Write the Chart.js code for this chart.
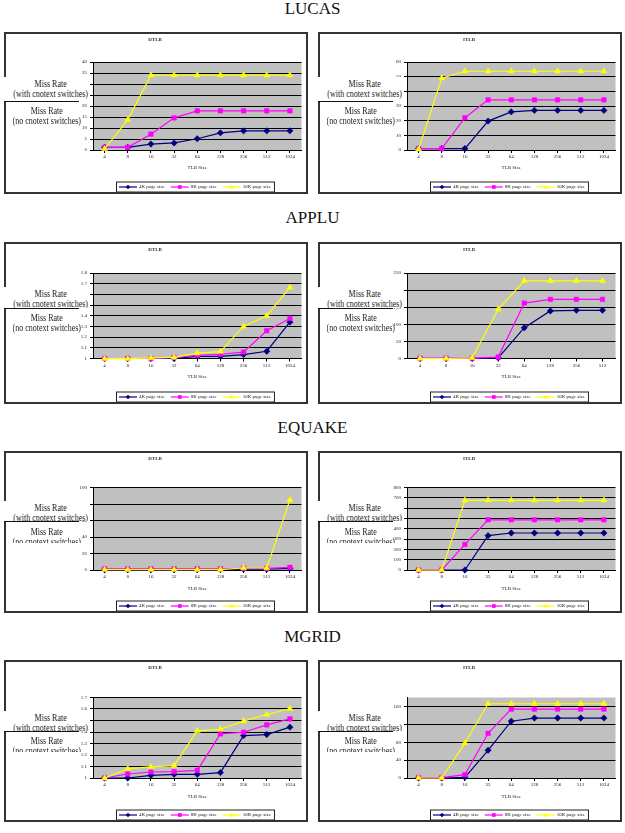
<!DOCTYPE html>
<html>
<head>
<meta charset="utf-8">
<script src="https://cdn.jsdelivr.net/npm/chart.js@4.4.0/dist/chart.umd.min.js"></script>
<style>
  body { margin: 0; width: 625px; height: 833px; background: #fff; position: relative; overflow: hidden; font-family: "Liberation Serif", "Times New Roman", "DejaVu Serif", serif; }
  .section { position: absolute; left: 0; width: 625px; text-align: center; font-size: 17px; line-height: 18px; color: #111; }
  .box { position: absolute; border: 2px solid #333; background: #fff; }
  .box canvas { display: block; }
  .mr { position: absolute; width: 86px; text-align: center; font-size: 10px; line-height: 10px; color: #222; overflow: hidden; white-space: nowrap; }
  .mr span { display: inline-block; transform: scaleX(0.8); transform-origin: center top; }
  .mr.upper { background: #fff; }
  .mrline { position: absolute; width: 75px; height: 0; border-top: 1.5px solid #111; }
</style>
</head>
<body>
<script>
// categories
const tlbSizes = ['4', '8', '16', '32', '64', '128', '256', '512', '1024'];
const tlbSizesApplu = ['4', '8', '16', '32', '64', '128', '256', '512'];
const seriesNames = ['4K page size', '8K page size', '16K page size'];

// LUCAS
const lucasDtlb4k = [1.2, 1.2, 2.7, 3.2, 5.1, 7.8, 8.7, 8.7, 8.7];
const lucasDtlb8k = [1.2, 1.2, 7.2, 14.6, 17.8, 17.8, 17.8, 17.8, 17.8];
const lucasDtlb16k = [0.5, 13.7, 34, 34, 34, 34, 34, 34, 34];
const lucasItlb4k = [1, 1, 1, 19.7, 26, 27, 27, 27, 27];
const lucasItlb8k = [1, 1, 22, 34.2, 34.2, 34.2, 34.2, 34.2, 34.2];
const lucasItlb16k = [0.5, 49, 53.7, 53.7, 53.7, 53.7, 53.7, 53.7, 53.7];

// APPLU
const appluDtlb4k = [1, 1, 1, 1, 1.02, 1.02, 1.037, 1.068, 1.34];
const appluDtlb8k = [1, 1, 1, 1.01, 1.03, 1.04, 1.06, 1.26, 1.375];
const appluDtlb16k = [0.998, 0.998, 1.005, 1.01, 1.05, 1.065, 1.3, 1.4, 1.665];
const appluItlb4k = [0, 0, 0, 2, 90, 139, 141, 141];
const appluItlb8k = [1, 1, 1, 4, 162, 173, 173, 173];
const appluItlb16k = [0, 0, 2, 144, 227, 227, 227, 227];

// EQUAKE
const equakeDtlb4k = [0.3, 0.3, 0.3, 0.3, 0.4, 0.5, 1, 1, 2];
const equakeDtlb8k = [1.5, 1.5, 1.5, 1.5, 1.5, 1.5, 2, 2, 3.2];
const equakeDtlb16k = [0.4, 0.4, 0.4, 0.4, 0.4, 0.4, 2.4, 2.4, 85];
const equakeItlb4k = [0, 0, 0, 333, 359, 359, 359, 359, 359];
const equakeItlb8k = [0, 0, 248, 487, 487, 487, 487, 487, 487];
const equakeItlb16k = [0, 0, 676, 676, 676, 676, 676, 676, 676];

// MGRID
const mgridDtlb4k = [1, 1, 1.023, 1.032, 1.032, 1.047, 1.369, 1.378, 1.442];
const mgridDtlb8k = [1, 1.035, 1.052, 1.055, 1.067, 1.384, 1.398, 1.462, 1.514];
const mgridDtlb16k = [0.998, 1.081, 1.096, 1.108, 1.41, 1.424, 1.494, 1.552, 1.602];
const mgridItlb4k = [0, 0, 1.5, 62, 127, 134, 134, 134, 134];
const mgridItlb8k = [1, 1, 7.6, 100, 154, 154, 154, 154, 154];
const mgridItlb16k = [0, 0, 78, 166, 166, 166, 166, 166, 166];

// y axis: min, max, step
const lucasDtlbTicks = [0, 40, 5];
const lucasItlbTicks = [0, 60, 10];
const appluDtlbTicks = [1, 1.8, 0.1];
const appluItlbTicks = [0, 250, 50];
const equakeDtlbTicks = [0, 100, 10];
const equakeItlbTicks = [0, 800, 100];
const mgridDtlbTicks = [1, 1.7, 0.1];
const mgridItlbTicks = [0, 180, 20];

const colors = ['#000080', '#ff00ff', '#ffff00'];
const markers = ['rectRot', 'rect', 'triangle'];

// page layout, offsets are from the top of each chart box
const rows = [
  { name: 'LUCAS', titleTop: 0, top: 32, plotTop: 30, plotBottom: 118, tlbY: 136, missY: 52, lineY: 69, lowerY: 79, lowerH: 21 },
  { name: 'APPLU', titleTop: 209, top: 242, plotTop: 31, plotBottom: 116.5, tlbY: 135, missY: 52, lineY: 66, lowerY: 76, lowerH: 21 },
  { name: 'EQUAKE', titleTop: 419, top: 451, plotTop: 36.5, plotBottom: 119, tlbY: 138, missY: 57, lineY: 70, lowerY: 81, lowerH: 16 },
  { name: 'MGRID', titleTop: 628, top: 660, plotTop: 37.5, plotBottom: 118, tlbY: 137, missY: 58, lineY: 71, lowerY: 81, lowerH: 16 }
];
const boxLeft = [4, 318];
const boxW = 304, boxH = 162, border = 2;

const charts = [
  { row: 0, side: 0, title: 'DTLB', labels: tlbSizes, series: [lucasDtlb4k, lucasDtlb8k, lucasDtlb16k], y: lucasDtlbTicks },
  { row: 0, side: 1, title: 'ITLB', labels: tlbSizes, series: [lucasItlb4k, lucasItlb8k, lucasItlb16k], y: lucasItlbTicks },
  { row: 1, side: 0, title: 'DTLB', labels: tlbSizes, series: [appluDtlb4k, appluDtlb8k, appluDtlb16k], y: appluDtlbTicks },
  { row: 1, side: 1, title: 'ITLB', labels: tlbSizesApplu, series: [appluItlb4k, appluItlb8k, appluItlb16k], y: appluItlbTicks },
  { row: 2, side: 0, title: 'DTLB', labels: tlbSizes, series: [equakeDtlb4k, equakeDtlb8k, equakeDtlb16k], y: equakeDtlbTicks },
  { row: 2, side: 1, title: 'ITLB', labels: tlbSizes, series: [equakeItlb4k, equakeItlb8k, equakeItlb16k], y: equakeItlbTicks },
  { row: 3, side: 0, title: 'DTLB', labels: tlbSizes, series: [mgridDtlb4k, mgridDtlb8k, mgridDtlb16k], y: mgridDtlbTicks },
  { row: 3, side: 1, title: 'ITLB', labels: tlbSizes, series: [mgridItlb4k, mgridItlb8k, mgridItlb16k], y: mgridItlbTicks }
];

Chart.defaults.font.family = "'Liberation Serif', 'Times New Roman', serif";
Chart.defaults.font.size = 5;
Chart.defaults.color = '#222';

// gray excel style plot area
const plotBg = {
  id: 'plotBg',
  beforeDraw(chart) {
    const { ctx, chartArea: a } = chart;
    ctx.save();
    ctx.fillStyle = '#c0c0c0';
    ctx.fillRect(a.left, a.top, a.right - a.left, a.bottom - a.top);
    ctx.restore();
  }
};

function drawMarker(ctx, style, x, y, r, color) {
  ctx.fillStyle = color;
  ctx.beginPath();
  if (style === 'rectRot') {
    ctx.moveTo(x, y - r); ctx.lineTo(x + r, y); ctx.lineTo(x, y + r); ctx.lineTo(x - r, y);
  } else if (style === 'rect') {
    ctx.rect(x - r * 0.8, y - r * 0.8, r * 1.6, r * 1.6);
  } else {
    ctx.moveTo(x, y - r); ctx.lineTo(x + r, y + r * 0.7); ctx.lineTo(x - r, y + r * 0.7);
  }
  ctx.closePath();
  ctx.fill();
}

// boxed legend under the plot, like the excel one
const boxLegend = {
  id: 'boxLegend',
  afterDraw(chart) {
    const ctx = chart.ctx, a = chart.chartArea;
    ctx.save();
    ctx.font = "5px 'Liberation Serif', 'Times New Roman', serif";
    const items = chart.data.datasets.map(ds => ({ ds, w: 18 + 2 + ctx.measureText(ds.label).width }));
    const gap = 6, pad = 3;
    const total = items.reduce((s, it) => s + it.w, 0) + gap * (items.length - 1) + pad * 2;
    const x0 = Math.round((a.left + a.right) / 2 - total / 2 - 2);
    const y0 = chart.height - 10.5, h = 10;
    ctx.fillStyle = '#fff';
    ctx.fillRect(x0, y0, total, h);
    ctx.strokeStyle = '#222';
    ctx.lineWidth = 1;
    ctx.strokeRect(x0 + 0.5, y0 + 0.5, total, h);
    let x = x0 + pad;
    const cy = y0 + h / 2 + 0.5;
    items.forEach(it => {
      ctx.strokeStyle = it.ds.borderColor;
      ctx.lineWidth = 1.2;
      ctx.beginPath(); ctx.moveTo(x, cy); ctx.lineTo(x + 18, cy); ctx.stroke();
      drawMarker(ctx, it.ds.pointStyle, x + 9, cy, 2.3, it.ds.borderColor);
      ctx.fillStyle = '#222';
      ctx.textBaseline = 'middle';
      ctx.fillText(it.ds.label, x + 20, cy);
      x += it.w + gap;
    });
    ctx.restore();
  }
};

function addDiv(cls, left, top, html, extra) {
  const d = document.createElement('div');
  d.className = cls;
  d.style.left = left + 'px';
  d.style.top = top + 'px';
  if (html) d.innerHTML = html;
  Object.assign(d.style, extra || {});
  document.body.appendChild(d);
  return d;
}

rows.forEach(r => {
  addDiv('section', 0, r.titleTop, r.name);
});

charts.forEach(c => {
  const r = rows[c.row];
  const left = boxLeft[c.side];
  const box = addDiv('box', left, r.top, '', { width: (boxW - 2 * border) + 'px', height: (boxH - 2 * border) + 'px' });
  const canvas = document.createElement('canvas');
  const cw = boxW - 2 * border, ch = boxH - 2 * border;
  canvas.width = cw;
  canvas.height = ch;
  box.appendChild(canvas);

  const innerTop = r.plotTop - border;
  const innerBottom = r.plotBottom - border;
  const xAxisH = ch - innerBottom;
  const tlbPad = ch - (r.tlbY - border) - 3;

  new Chart(canvas, {
    type: 'line',
    data: {
      labels: c.labels,
      datasets: c.series.map((vals, i) => ({
        label: seriesNames[i],
        data: vals,
        borderColor: colors[i],
        backgroundColor: colors[i],
        pointBackgroundColor: colors[i],
        pointBorderColor: colors[i],
        pointStyle: markers[i],
        pointRadius: i === 2 ? 3.5 : 3.2,
        pointBorderWidth: 0.5,
        borderWidth: 1.2,
        tension: 0,
        clip: false,
        order: 2 - i
      }))
    },
    options: {
      responsive: false,
      animation: false,
      events: [],
      layout: { padding: { left: 0, right: 2, top: 0, bottom: 0 } },
      plugins: {
        legend: { display: false },
        tooltip: { enabled: false },
        title: {
          display: true,
          text: c.title,
          font: { size: 5 },
          color: '#333',
          padding: { top: 3, bottom: innerTop - 9 }
        }
      },
      scales: {
        x: {
          offset: true,
          grid: { display: true, drawOnChartArea: false, color: '#000', tickLength: 3 },
          border: { color: '#000', width: 1 },
          ticks: { padding: 1, maxRotation: 0, autoSkip: false, color: '#222' },
          title: { display: true, text: 'TLB Size', color: '#222', font: { size: 5 }, padding: { top: 0, bottom: tlbPad } },
          afterFit(scale) { scale.height = xAxisH; }
        },
        y: {
          min: c.y[0],
          max: c.y[1],
          ticks: { stepSize: c.y[2], padding: 3, color: '#222', callback: v => String(Math.round(v * 100) / 100) },
          grid: { color: '#000', lineWidth: 1, tickLength: 3 },
          border: { color: '#000', width: 1 },
          afterFit(scale) { scale.width = 87; }
        }
      }
    },
    plugins: [plotBg, boxLegend]
  });

  // pasted "Miss Rate" labels over the y axis
  const lh = 10;
  const upTop = r.missY - lh / 2 - 2;
  addDiv('mr upper', left, r.top + upTop, '<span>Miss Rate<br>(with cnotext switches)</span>', {
    height: (r.lineY - upTop - 2) + 'px', paddingTop: '2px'
  });
  addDiv('mrline', left, r.top + r.lineY, '');
  addDiv('mr', left, r.top + r.lowerY - lh / 2, '<span>Miss Rate<br>(no cnotext switches)</span>', {
    height: r.lowerH + 'px'
  });
});
</script>
</body>
</html>
